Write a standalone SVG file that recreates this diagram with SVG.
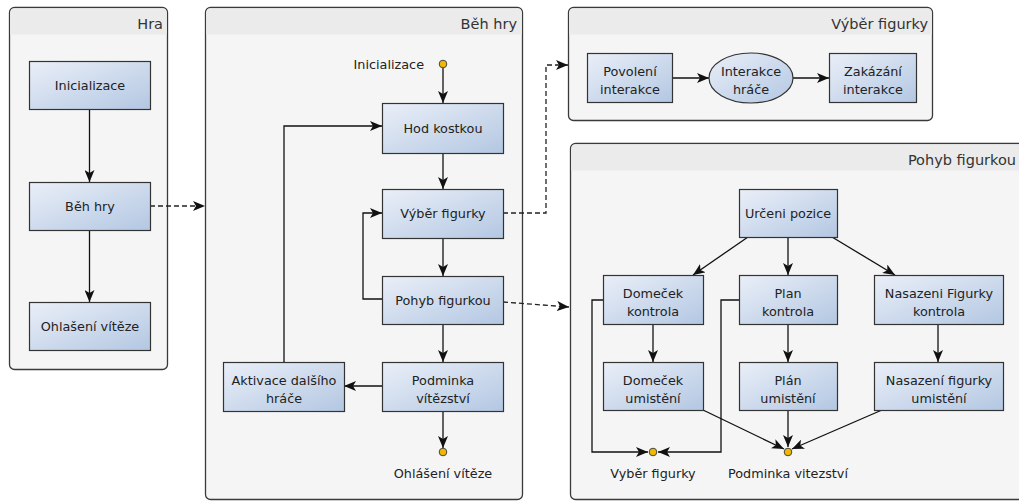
<svg xmlns="http://www.w3.org/2000/svg" width="1019" height="502" viewBox="0 0 1019 502">
<defs>
<linearGradient id="g" x1="0" y1="0" x2="1" y2="1">
<stop offset="0" stop-color="#eaeff8"/>
<stop offset="1" stop-color="#b3c7e2"/>
</linearGradient>
<marker id="a" viewBox="0 0 12 10" refX="12" refY="5" markerWidth="12" markerHeight="10" orient="auto" markerUnits="userSpaceOnUse">
<path d="M0,0 L12,5 L0,10 L3,5 Z" fill="#111"/>
</marker>
</defs>
<style>
.cont{fill:#f5f5f5;stroke:#3a3a3a;stroke-width:1.3}
.hdr{fill:#ebebeb}
.ttl{font-family:"DejaVu Sans",sans-serif;font-size:14.5px;fill:#333;text-anchor:end}
.box{fill:url(#g);stroke:#333;stroke-width:1.2}
.t{font-family:"DejaVu Sans",sans-serif;font-size:12.8px;fill:#222;text-anchor:middle}
.tr{font-family:"DejaVu Sans",sans-serif;font-size:12.8px;fill:#222;text-anchor:end}
.ln{fill:none;stroke:#111;stroke-width:1.3}
.dl{fill:none;stroke:#222;stroke-width:1.3;stroke-dasharray:5 3}
.dot{fill:#f2b800;stroke:#444;stroke-width:1}
</style>

<g id="cont-hra">
<rect class="cont" x="9.5" y="7.5" width="158" height="362" rx="5"/>
<path class="hdr" d="M10.2,34.5 V12.5 a4.5,4.5 0 0 1 4.5,-4.3 H162.3 a4.5,4.5 0 0 1 4.5,4.3 V34.5 Z"/>
<text class="ttl" x="163" y="29">Hra</text>
</g>
<g id="cont-beh">
<rect class="cont" x="205.5" y="7.5" width="317" height="492" rx="5"/>
<path class="hdr" d="M206.2,34.5 V12.5 a4.5,4.5 0 0 1 4.5,-4.3 H517.3 a4.5,4.5 0 0 1 4.5,4.3 V34.5 Z"/>
<text class="ttl" x="517" y="29">Běh hry</text>
</g>
<g id="cont-vyber">
<rect class="cont" x="568.5" y="7.5" width="364" height="113" rx="5"/>
<path class="hdr" d="M569.2,34.5 V12.5 a4.5,4.5 0 0 1 4.5,-4.3 H927.3 a4.5,4.5 0 0 1 4.5,4.3 V34.5 Z"/>
<text class="ttl" x="928" y="29">Výběr figurky</text>
</g>
<g id="cont-pohyb">
<rect class="cont" x="570.5" y="143.5" width="470" height="356" rx="5"/>
<path class="hdr" d="M571.2,170.5 V148.5 a4.5,4.5 0 0 1 4.5,-4.3 H1030 V170.5 Z"/>
<text class="ttl" x="1016" y="165">Pohyb figurkou</text>
</g>

<g id="connectors">
<line class="ln" x1="89.5" y1="109" x2="89.5" y2="182" marker-end="url(#a)"/>
<line class="ln" x1="89.5" y1="230" x2="89.5" y2="302" marker-end="url(#a)"/>
<line class="dl" x1="150" y1="206" x2="205" y2="206" marker-end="url(#a)"/>

<line class="ln" x1="443" y1="68" x2="443" y2="103" marker-end="url(#a)"/>
<line class="ln" x1="443" y1="153" x2="443" y2="189" marker-end="url(#a)"/>
<line class="ln" x1="443" y1="238" x2="443" y2="276" marker-end="url(#a)"/>
<line class="ln" x1="443" y1="324" x2="443" y2="362" marker-end="url(#a)"/>
<line class="ln" x1="443" y1="411" x2="443" y2="448" marker-end="url(#a)"/>
<line class="ln" x1="382" y1="386" x2="344" y2="386" marker-end="url(#a)"/>
<polyline class="ln" points="284,362 284,126 382,126" marker-end="url(#a)"/>
<polyline class="ln" points="382,299 363,299 363,213 382,213" marker-end="url(#a)"/>
<polyline class="dl" points="503,213 546,213 546,65 568,65" marker-end="url(#a)"/>
<line class="dl" x1="503" y1="302" x2="569" y2="307" marker-end="url(#a)"/>

<line class="ln" x1="672" y1="78" x2="709" y2="78" marker-end="url(#a)"/>
<line class="ln" x1="793" y1="78" x2="829" y2="78" marker-end="url(#a)"/>

<line class="ln" x1="748" y1="237" x2="693" y2="275" marker-end="url(#a)"/>
<line class="ln" x1="788" y1="237" x2="788" y2="275" marker-end="url(#a)"/>
<line class="ln" x1="832" y1="237" x2="895" y2="275" marker-end="url(#a)"/>
<line class="ln" x1="653" y1="324" x2="653" y2="362" marker-end="url(#a)"/>
<line class="ln" x1="788" y1="324" x2="788" y2="362" marker-end="url(#a)"/>
<line class="ln" x1="938" y1="324" x2="938" y2="362" marker-end="url(#a)"/>
<polyline class="ln" points="603,300 592,300 592,452 648,452" marker-end="url(#a)"/>
<polyline class="ln" points="739,300 721,300 721,452 658,452" marker-end="url(#a)"/>
<line class="ln" x1="703" y1="410" x2="784" y2="449" marker-end="url(#a)"/>
<line class="ln" x1="788" y1="410" x2="788" y2="447" marker-end="url(#a)"/>
<line class="ln" x1="882" y1="410" x2="792" y2="449" marker-end="url(#a)"/>
</g>

<g id="n-inicializace"><rect class="box" x="29.5" y="61.5" width="121" height="48"/><text class="t" x="90" y="90">Inicializace</text></g>
<g id="n-behhry"><rect class="box" x="29.5" y="182.5" width="121" height="48"/><text class="t" x="90" y="211">Běh hry</text></g>
<g id="n-ohlaseni"><rect class="box" x="29.5" y="302.5" width="121" height="48"/><text class="t" x="90" y="331">Ohlašení vítěze</text></g>

<g id="s-inicializace"><circle class="dot" cx="443" cy="64" r="3.8"/><text class="tr" x="424" y="69">Inicializace</text></g>
<g id="n-hod"><rect class="box" x="382.5" y="103.5" width="121" height="50"/><text class="t" x="443" y="133">Hod kostkou</text></g>
<g id="n-vyber"><rect class="box" x="382.5" y="189.5" width="121" height="49"/><text class="t" x="443" y="218">Výběr figurky</text></g>
<g id="n-pohyb"><rect class="box" x="382.5" y="276.5" width="121" height="48"/><text class="t" x="443" y="305">Pohyb figurkou</text></g>
<g id="n-podminka"><rect class="box" x="382.5" y="362.5" width="121" height="49"/><text class="t" x="443" y="385">Podminka</text><text class="t" x="443" y="403">vítězství</text></g>
<g id="n-aktivace"><rect class="box" x="223.5" y="362.5" width="121" height="49"/><text class="t" x="284" y="385">Aktivace dalšího</text><text class="t" x="284" y="403">hráče</text></g>
<g id="e-ohlaseni"><circle class="dot" cx="443" cy="452" r="3.8"/><text class="t" x="443" y="478">Ohlášení vítěze</text></g>

<g id="n-povoleni"><rect class="box" x="587.5" y="53.5" width="85" height="49"/><text class="t" x="630" y="76">Povolení</text><text class="t" x="630" y="94">interakce</text></g>
<g id="n-interakce"><ellipse class="box" cx="751" cy="78" rx="42" ry="25"/><text class="t" x="751" y="76">Interakce</text><text class="t" x="751" y="94">hráče</text></g>
<g id="n-zakazani"><rect class="box" x="829.5" y="53.5" width="87" height="49"/><text class="t" x="873" y="76">Zakázání</text><text class="t" x="873" y="94">interakce</text></g>

<g id="n-urceni"><rect class="box" x="739.5" y="189.5" width="98" height="48"/><text class="t" x="788" y="218">Určeni pozice</text></g>
<g id="n-domecek-k"><rect class="box" x="603.5" y="275.5" width="100" height="49"/><text class="t" x="653" y="298">Domeček</text><text class="t" x="653" y="316">kontrola</text></g>
<g id="n-plan-k"><rect class="box" x="739.5" y="275.5" width="98" height="49"/><text class="t" x="788" y="298">Plan</text><text class="t" x="788" y="316">kontrola</text></g>
<g id="n-nasazeni-k"><rect class="box" x="874.5" y="275.5" width="129" height="49"/><text class="t" x="939" y="298">Nasazeni Figurky</text><text class="t" x="939" y="316">kontrola</text></g>
<g id="n-domecek-u"><rect class="box" x="603.5" y="362.5" width="100" height="48"/><text class="t" x="653" y="385">Domeček</text><text class="t" x="653" y="403">umistění</text></g>
<g id="n-plan-u"><rect class="box" x="739.5" y="362.5" width="98" height="48"/><text class="t" x="788" y="385">Plán</text><text class="t" x="788" y="403">umistění</text></g>
<g id="n-nasazeni-u"><rect class="box" x="874.5" y="362.5" width="129" height="48"/><text class="t" x="939" y="385">Nasazení figurky</text><text class="t" x="939" y="403">umistění</text></g>
<g id="e-vyber"><circle class="dot" cx="653" cy="452" r="3.8"/><text class="t" x="653" y="478">Vyběr figurky</text></g>
<g id="e-podminka"><circle class="dot" cx="788" cy="452" r="3.8"/><text class="t" x="788" y="478">Podminka vitezství</text></g>
</svg>
